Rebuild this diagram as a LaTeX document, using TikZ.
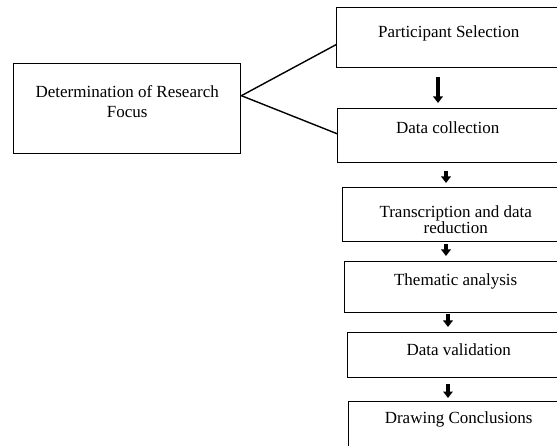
\documentclass[tikz,border=0pt]{standalone}
\usepackage{fontspec}
\setmainfont{Liberation Serif}
\usepackage{tikz}
\usetikzlibrary{positioning,arrows.meta}
\tikzset{
  stepbox/.style={draw, line width=1.4pt, anchor=north west, inner sep=0pt,
    align=center, font=\fontsize{17pt}{20pt}\selectfont},
  flow/.style={line width=3.3pt, -{Triangle[width=9.5pt,length=6.5pt]}},
  link/.style={line width=1.4pt},
}

\begin{document}
\begin{tikzpicture}[x=1pt,y=-1pt]
  % --- frame: boxes on the right run past the page edge ---
  \useasboundingbox (0,0) rectangle (557,446);
  \clip (0,0) rectangle (557,446);

  % --- research focus ---
  \node[stepbox, minimum width=227pt, text height=54pt, text depth=36pt] (focus) at (13,63)
    {Determination of Research\\Focus};

  % --- step column ---
  \node[stepbox, minimum width=224pt, text height=30pt, text depth=30pt] (select) at (336,7)
    {Participant Selection};
  \node[stepbox, minimum width=220pt, text height=25pt, text depth=29pt] (collect) at (337,108)
    {Data collection};
  \node[stepbox, minimum width=226pt, text height=46pt, text depth=8pt,
        font=\fontsize{17pt}{15pt}\selectfont] (reduce) at (342,187)
    {Transcription and data\\reduction};
  \node[stepbox, minimum width=222pt, text height=24pt, text depth=27pt] (theme) at (344,261)
    {Thematic analysis};
  \node[stepbox, minimum width=222pt, text height=23pt, text depth=22pt] (valid) at (347,332)
    {Data validation};
  \node[stepbox, minimum width=220pt, text height=22pt, text depth=40pt] (conclude) at (348,401)
    {Drawing Conclusions};

  % --- focus feeds the first two steps ---
  \draw[link] ([yshift=13pt]focus.east) -- ([yshift=-7pt]select.west);
  \draw[link] ([yshift=13pt]focus.east) -- ([yshift=2pt]collect.west);

  % --- arrows down the column ---
  \draw[flow] ([xshift=102pt,yshift=-9pt]select.south west) -- ([xshift=101pt,yshift=5pt]collect.north west);
  \draw[flow] ([xshift=109pt,yshift=-8pt]collect.south west) -- ([xshift=104pt,yshift=4pt]reduce.north west);
  \draw[flow] ([xshift=104pt,yshift=-2pt]reduce.south west) -- ([xshift=102pt,yshift=5pt]theme.north west);
  \draw[flow] ([xshift=104pt,yshift=-1pt]theme.south west) -- ([xshift=101pt,yshift=5pt]valid.north west);
  \draw[flow] ([xshift=101pt,yshift=-6pt]valid.south west) -- ([xshift=100pt,yshift=3pt]conclude.north west);
\end{tikzpicture}
\end{document}
